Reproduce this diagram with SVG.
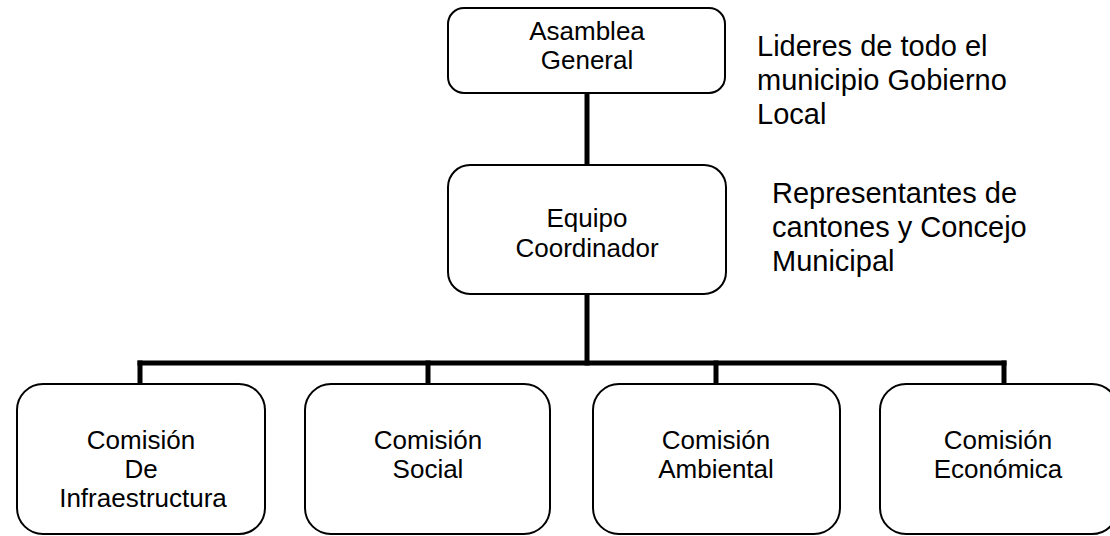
<svg xmlns="http://www.w3.org/2000/svg" width="1110" height="536" viewBox="0 0 1110 536">
<style>
.box{fill:#fff;stroke:#000;stroke-width:2}
.t{font-family:"Liberation Sans",Arial,sans-serif;font-size:26px;fill:#000;text-anchor:middle}
.n{font-family:"Liberation Sans",Arial,sans-serif;font-size:29px;fill:#000}
.c{stroke:#000;stroke-width:5;fill:none;stroke-linecap:square}
</style>
<rect width="1110" height="536" fill="#fff"/>
<g id="connectors">
<line class="c" x1="587" y1="93" x2="587" y2="165"/>
<line class="c" x1="587" y1="294" x2="587" y2="363"/>
<line class="c" x1="140" y1="363" x2="1004" y2="363"/>
<line class="c" x1="140" y1="363" x2="140" y2="384"/>
<line class="c" x1="428" y1="363" x2="428" y2="384"/>
<line class="c" x1="716" y1="363" x2="716" y2="384"/>
<line class="c" x1="1004" y1="363" x2="1004" y2="384"/>
</g>
<g id="asamblea">
<rect class="box" x="448" y="8" width="277" height="85" rx="16"/>
<text class="t" x="587" y="40">Asamblea</text>
<text class="t" x="587" y="69">General</text>
</g>
<g id="equipo">
<rect class="box" x="448" y="165" width="278" height="129" rx="22"/>
<text class="t" x="587" y="227">Equipo</text>
<text class="t" x="587" y="257">Coordinador</text>
</g>
<g id="com-infra">
<rect class="box" x="17" y="384" width="248" height="150" rx="26"/>
<text class="t" x="141" y="449">Comisión</text>
<text class="t" x="141" y="478">De</text>
<text class="t" x="143" y="507">Infraestructura</text>
</g>
<g id="com-social">
<rect class="box" x="305" y="384" width="245" height="150" rx="26"/>
<text class="t" x="428" y="449">Comisión</text>
<text class="t" x="428" y="478">Social</text>
</g>
<g id="com-ambiental">
<rect class="box" x="593" y="384" width="247" height="150" rx="26"/>
<text class="t" x="716" y="449">Comisión</text>
<text class="t" x="716" y="478">Ambiental</text>
</g>
<g id="com-economica">
<rect class="box" x="880" y="384" width="238" height="150" rx="26"/>
<text class="t" x="998" y="449">Comisión</text>
<text class="t" x="998" y="478">Económica</text>
</g>
<g id="note-asamblea">
<text class="n" x="757" y="56">Lideres de todo el</text>
<text class="n" x="757" y="90">municipio Gobierno</text>
<text class="n" x="757" y="124">Local</text>
</g>
<g id="note-equipo">
<text class="n" x="772" y="203">Representantes de</text>
<text class="n" x="772" y="237">cantones y Concejo</text>
<text class="n" x="772" y="271">Municipal</text>
</g>
</svg>
